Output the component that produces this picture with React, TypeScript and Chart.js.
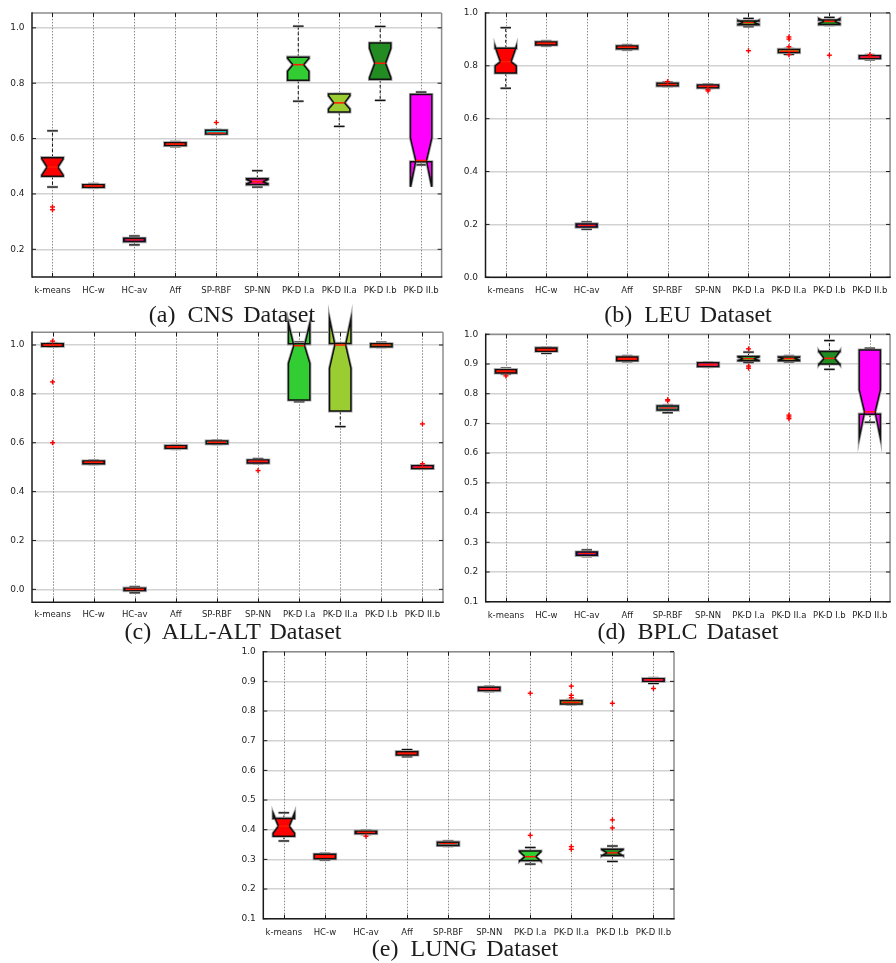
import React, { useEffect, useRef } from 'react';
import { Chart, registerables } from 'chart.js';

Chart.register(...registerables);

// ---------- data ----------
const categories = ['k-means', 'HC-w', 'HC-av', 'Aff', 'SP-RBF', 'SP-NN', 'PK-D I.a', 'PK-D II.a', 'PK-D I.b', 'PK-D II.b'];
const boxColors = ['#ff0000', '#ff0000', '#0000ff', '#ff0000', '#00c8c8', '#ff1493', '#32cd32', '#9acd32', '#228b22', '#ff00ff'];

// (a) CNS
const cnsLow = [0.425, 0.422, 0.216, 0.571, 0.615, 0.425, 0.735, 0.644, 0.738, 0.505];
const cnsQ1 = [0.464, 0.424, 0.228, 0.575, 0.617, 0.434, 0.811, 0.696, 0.814, 0.516];
const cnsMed = [0.497, 0.429, 0.234, 0.580, 0.620, 0.444, 0.867, 0.729, 0.872, 0.521];
const cnsQ3 = [0.531, 0.433, 0.240, 0.585, 0.630, 0.455, 0.894, 0.761, 0.945, 0.759];
const cnsHigh = [0.628, 0.437, 0.248, 0.589, 0.632, 0.484, 1.006, 0.761, 1.005, 0.768];
const cnsNotchLo = [0.468, null, null, null, null, 0.437, 0.843, 0.707, 0.820, 0.426];
const cnsNotchHi = [0.527, null, null, null, null, 0.452, 0.890, 0.755, 0.926, 0.602];
const cnsOutliers = [[0.353, 0.343], [], [], [], [0.658], [], [], [], [], []];
const cnsTicks = [0.2, 0.4, 0.6, 0.8, 1.0];

// (b) LEU
const leuLow = [0.715, 0.875, 0.182, 0.860, 0.722, 0.715, 0.948, 0.843, 0.953, 0.823];
const leuQ1 = [0.773, 0.879, 0.190, 0.864, 0.724, 0.717, 0.955, 0.850, 0.956, 0.828];
const leuMed = [0.815, 0.885, 0.196, 0.870, 0.729, 0.722, 0.963, 0.855, 0.968, 0.833];
const leuQ3 = [0.866, 0.890, 0.202, 0.875, 0.734, 0.727, 0.969, 0.862, 0.973, 0.838];
const leuHigh = [0.944, 0.894, 0.209, 0.879, 0.738, 0.730, 0.979, 0.865, 0.983, 0.842];
const leuNotchLo = [0.800, null, null, null, null, null, 0.957, null, 0.960, null];
const leuNotchHi = [0.872, null, null, null, null, null, 0.972, null, 0.978, null];
const leuOutliers = [[], [], [], [], [0.740], [0.710, 0.705], [0.857], [0.909, 0.901, 0.872, 0.842], [0.840], [0.842]];
const leuTicks = [0.0, 0.2, 0.4, 0.6, 0.8, 1.0];

// (c) ALL-ALT
const allLow = [0.993, 0.512, -0.014, 0.574, 0.594, 0.515, 0.768, 0.666, 0.991, 0.493];
const allQ1 = [0.995, 0.514, -0.005, 0.577, 0.596, 0.517, 0.775, 0.730, 0.993, 0.495];
const allMed = [1.000, 0.520, 0.000, 0.583, 0.602, 0.524, 0.997, 1.000, 1.000, 0.500];
const allQ3 = [1.005, 0.525, 0.005, 0.588, 0.607, 0.529, 1.005, 1.006, 1.005, 0.506];
const allHigh = [1.008, 0.528, 0.011, 0.591, 0.610, 0.535, 1.012, 1.008, 1.011, 0.508];
const allNotchLo = [null, null, null, null, null, null, 0.925, 0.905, null, null];
const allNotchHi = [null, null, null, null, null, null, 1.088, 1.105, null, null];
const allOutliers = [[1.016, 0.849, 0.600], [], [], [], [], [0.486], [], [], [], [0.677, 0.514]];
const allTicks = [0.0, 0.2, 0.4, 0.6, 0.8, 1.0];

// (d) BPLC
const bplcLow = [0.866, 0.936, 0.252, 0.908, 0.736, 0.890, 0.905, 0.907, 0.882, 0.704];
const bplcQ1 = [0.870, 0.943, 0.256, 0.911, 0.745, 0.892, 0.911, 0.911, 0.900, 0.731];
const bplcMed = [0.876, 0.948, 0.262, 0.918, 0.752, 0.898, 0.918, 0.918, 0.919, 0.739];
const bplcQ3 = [0.881, 0.954, 0.267, 0.924, 0.759, 0.904, 0.925, 0.924, 0.942, 0.947];
const bplcHigh = [0.886, 0.956, 0.274, 0.928, 0.762, 0.906, 0.940, 0.928, 0.979, 0.953];
const bplcNotchLo = [null, null, null, null, null, null, 0.912, 0.913, 0.898, 0.653];
const bplcNotchHi = [null, null, null, null, null, null, 0.924, 0.923, 0.943, 0.813];
const bplcOutliers = [[0.860], [], [], [], [0.780, 0.776], [], [0.951, 0.893, 0.886], [0.728, 0.722, 0.716], [], []];
const bplcTicks = [0.1, 0.2, 0.3, 0.4, 0.5, 0.6, 0.7, 0.8, 0.9, 1.0];

// (e) LUNG
const lungLow = [0.362, 0.298, 0.384, 0.646, 0.344, 0.866, 0.284, 0.822, 0.293, 0.893];
const lungQ1 = [0.378, 0.302, 0.387, 0.652, 0.347, 0.869, 0.296, 0.824, 0.313, 0.900];
const lungMed = [0.412, 0.310, 0.391, 0.657, 0.353, 0.874, 0.309, 0.829, 0.322, 0.905];
const lungQ3 = [0.438, 0.317, 0.395, 0.663, 0.358, 0.880, 0.328, 0.835, 0.334, 0.909];
const lungHigh = [0.457, 0.320, 0.398, 0.670, 0.362, 0.883, 0.340, 0.838, 0.345, 0.912];
const lungNotchLo = [0.388, null, null, null, null, null, 0.294, null, 0.312, null];
const lungNotchHi = [0.455, null, null, null, null, null, 0.326, null, 0.333, null];
const lungOutliers = [[], [], [0.378], [], [], [], [0.860, 0.381], [0.884, 0.853, 0.845, 0.343, 0.334], [0.826, 0.433, 0.406], [0.876]];
const lungTicks = [0.1, 0.2, 0.3, 0.4, 0.5, 0.6, 0.7, 0.8, 0.9, 1.0];

type Panel = {
  key: string;
  tag: string;
  name: string;
  low: number[]; q1: number[]; med: number[]; q3: number[]; high: number[];
  notchLo: (number | null)[]; notchHi: (number | null)[];
  outliers: number[][];
  ticks: number[];
  yMin: number; yMax: number;
};

const panels: Panel[] = [
  { key: 'a', tag: '(a)', name: 'CNS Dataset', low: cnsLow, q1: cnsQ1, med: cnsMed, q3: cnsQ3, high: cnsHigh, notchLo: cnsNotchLo, notchHi: cnsNotchHi, outliers: cnsOutliers, ticks: cnsTicks, yMin: 0.1, yMax: 1.054 },
  { key: 'b', tag: '(b)', name: 'LEU Dataset', low: leuLow, q1: leuQ1, med: leuMed, q3: leuQ3, high: leuHigh, notchLo: leuNotchLo, notchHi: leuNotchHi, outliers: leuOutliers, ticks: leuTicks, yMin: 0.0, yMax: 1.0 },
  { key: 'c', tag: '(c)', name: 'ALL-ALT Dataset', low: allLow, q1: allQ1, med: allMed, q3: allQ3, high: allHigh, notchLo: allNotchLo, notchHi: allNotchHi, outliers: allOutliers, ticks: allTicks, yMin: -0.053, yMax: 1.052 },
  { key: 'd', tag: '(d)', name: 'BPLC Dataset', low: bplcLow, q1: bplcQ1, med: bplcMed, q3: bplcQ3, high: bplcHigh, notchLo: bplcNotchLo, notchHi: bplcNotchHi, outliers: bplcOutliers, ticks: bplcTicks, yMin: 0.1, yMax: 1.0 },
  { key: 'e', tag: '(e)', name: 'LUNG Dataset', low: lungLow, q1: lungQ1, med: lungMed, q3: lungQ3, high: lungHigh, notchLo: lungNotchLo, notchHi: lungNotchHi, outliers: lungOutliers, ticks: lungTicks, yMin: 0.1, yMax: 1.0 },
];

// ---------- layout (positions / sizes only) ----------
type Layout = { left: number; top: number; w: number; h: number; padTop: number; padRight: number; yWidth: number; xHeight: number; xPad: number; capX: number; capTop: number };
const layouts: Record<string, Layout> = {
  a: { left: 0, top: 0, w: 448, h: 300, padTop: 7, padRight: 5, yWidth: 32, xHeight: 23, xPad: 9, capX: 232, capTop: 301.5 },
  b: { left: 448, top: 0, w: 448, h: 300, padTop: 10, padRight: 1, yWidth: 37.5, xHeight: 22.7, xPad: 8.5, capX: 688, capTop: 301.5 },
  c: { left: 0, top: 300, w: 448, h: 340, padTop: 32.3, padRight: 5, yWidth: 32, xHeight: 37.7, xPad: 7.5, capX: 233, capTop: 618.5 },
  d: { left: 448, top: 300, w: 448, h: 340, padTop: 34.3, padRight: 1, yWidth: 37.7, xHeight: 38.3, xPad: 8.5, capX: 688, capTop: 618.5 },
  e: { left: 220, top: 630, w: 470, h: 333, padTop: 21.7, padRight: 16, yWidth: 43.3, xHeight: 44.3, xPad: 8.5, capX: 465, capTop: 936 },
};

function line(ctx: CanvasRenderingContext2D, x1: number, y1: number, x2: number, y2: number) {
  ctx.beginPath();
  ctx.moveTo(x1, y1);
  ctx.lineTo(x2, y2);
  ctx.stroke();
}

function makeBoxPlugin(p: Panel) {
  return {
    id: 'boxplot-' + p.key,
    beforeDatasetsDraw(chart: any) {
      const ctx: CanvasRenderingContext2D = chart.ctx;
      const a = chart.chartArea;
      const xs = chart.scales.x;
      const ys = chart.scales.y;
      ctx.save();
      // vertical dotted category lines
      ctx.strokeStyle = '#8a8a8a';
      ctx.lineWidth = 1;
      ctx.setLineDash([1.5, 1.5]);
      for (let i = 0; i < categories.length; i++) {
        const x = Math.round(xs.getPixelForValue(i)) + 0.5;
        line(ctx, x, a.top, x, a.bottom);
      }
      ctx.setLineDash([]);
      // frame: top/right lighter, left/bottom dark
      ctx.lineWidth = 1.5;
      ctx.strokeStyle = '#8c8c8c';
      line(ctx, a.left, a.top, a.right, a.top);
      line(ctx, a.right, a.top, a.right, a.bottom);
      ctx.strokeStyle = '#1a1a1a';
      line(ctx, a.left, a.top - 0.75, a.left, a.bottom + 0.75);
      line(ctx, a.left, a.bottom, a.right + 0.75, a.bottom);
      // inward tick marks
      ctx.lineWidth = 1;
      ctx.strokeStyle = '#1a1a1a';
      ys.ticks.forEach((t: any) => {
        const y = ys.getPixelForValue(t.value);
        line(ctx, a.left, y, a.left + 4, y);
        line(ctx, a.right - 4, y, a.right, y);
      });
      for (let i = 0; i < categories.length; i++) {
        const x = Math.round(xs.getPixelForValue(i)) + 0.5;
        line(ctx, x, a.top, x, a.top + 4);
        line(ctx, x, a.bottom - 4, x, a.bottom);
      }
      ctx.restore();
    },
    afterDatasetsDraw(chart: any) {
      const ctx: CanvasRenderingContext2D = chart.ctx;
      const a = chart.chartArea;
      const xs = chart.scales.x;
      const ys = chart.scales.y;
      const Y = (v: number) => ys.getPixelForValue(v);
      const step = (a.right - a.left) / categories.length;
      const hw = step * 0.26;
      ctx.save();
      for (let i = 0; i < categories.length; i++) {
        const x = xs.getPixelForValue(i);
        // whiskers
        ctx.strokeStyle = '#111';
        ctx.lineWidth = 1;
        ctx.setLineDash([3, 2.5]);
        line(ctx, x, Y(p.q3[i]), x, Y(p.high[i]));
        line(ctx, x, Y(p.q1[i]), x, Y(p.low[i]));
        ctx.setLineDash([]);
        // caps with soft halo
        ctx.strokeStyle = '#b5b5b5';
        ctx.lineWidth = 2.6;
        line(ctx, x - hw / 2, Y(p.high[i]), x + hw / 2, Y(p.high[i]));
        line(ctx, x - hw / 2, Y(p.low[i]), x + hw / 2, Y(p.low[i]));
        ctx.strokeStyle = '#111';
        ctx.lineWidth = 1.2;
        line(ctx, x - hw / 2, Y(p.high[i]), x + hw / 2, Y(p.high[i]));
        line(ctx, x - hw / 2, Y(p.low[i]), x + hw / 2, Y(p.low[i]));
        // box
        const xl = x - hw, xr = x + hw, wl = x - hw / 2, wr = x + hw / 2;
        const nLo = p.notchLo[i], nHi = p.notchHi[i];
        const notched = nLo != null && nHi != null;
        ctx.beginPath();
        if (notched) {
          ctx.moveTo(xl, Y(p.q1[i]));
          ctx.lineTo(xr, Y(p.q1[i]));
          ctx.lineTo(xr, Y(nLo as number));
          ctx.lineTo(wr, Y(p.med[i]));
          ctx.lineTo(xr, Y(nHi as number));
          ctx.lineTo(xr, Y(p.q3[i]));
          ctx.lineTo(xl, Y(p.q3[i]));
          ctx.lineTo(xl, Y(nHi as number));
          ctx.lineTo(wl, Y(p.med[i]));
          ctx.lineTo(xl, Y(nLo as number));
          ctx.closePath();
        } else {
          ctx.rect(xl, Y(p.q3[i]), xr - xl, Y(p.q1[i]) - Y(p.q3[i]));
        }
        ctx.strokeStyle = '#a8a8a8';
        ctx.lineWidth = 3.2;
        ctx.stroke();
        ctx.fillStyle = boxColors[i];
        ctx.fill();
        ctx.strokeStyle = '#111';
        ctx.lineWidth = 1.5;
        ctx.stroke();
        // median
        ctx.strokeStyle = '#ff1a00';
        ctx.lineWidth = 1.5;
        if (notched) line(ctx, wl, Y(p.med[i]), wr, Y(p.med[i]));
        else line(ctx, xl + 1.5, Y(p.med[i]), xr - 1.5, Y(p.med[i]));
        // outliers
        ctx.strokeStyle = '#ff0000';
        ctx.lineWidth = 1.4;
        p.outliers[i].forEach((v) => {
          const y = Y(v);
          line(ctx, x - 2.5, y, x + 2.5, y);
          line(ctx, x, y - 2.5, x, y + 2.5);
        });
      }
      ctx.restore();
    },
  };
}

function BoxPanel({ panel }: { panel: Panel }) {
  const ref = useRef<HTMLCanvasElement>(null);
  const L = layouts[panel.key];
  useEffect(() => {
    const canvas = ref.current;
    if (!canvas) return;
    const chart = new Chart(canvas, {
      type: 'bar',
      data: {
        labels: categories,
        datasets: [
          {
            label: panel.name,
            data: panel.q1.map((v, i) => [v, panel.q3[i]]) as any,
            backgroundColor: 'rgba(0,0,0,0)',
            borderWidth: 0,
          },
        ],
      },
      options: {
        responsive: false,
        animation: false,
        events: [],
        layout: { padding: { left: 0, top: L.padTop, right: L.padRight, bottom: 0 } },
        plugins: { legend: { display: false }, tooltip: { enabled: false } },
        scales: {
          x: {
            type: 'category',
            offset: true,
            grid: { display: false, drawTicks: false },
            border: { display: false },
            ticks: {
              autoSkip: false,
              maxRotation: 0,
              minRotation: 0,
              padding: L.xPad,
              color: '#1e1e1e',
              font: { family: 'DejaVu Sans', size: 8.5 },
            },
            afterFit: (s: any) => {
              s.height = L.xHeight;
            },
          },
          y: {
            type: 'linear',
            min: panel.yMin,
            max: panel.yMax,
            grid: { color: '#d2d2d2', lineWidth: 1.5, drawTicks: false },
            border: { display: false },
            ticks: {
              padding: 7.5,
              color: '#1e1e1e',
              font: { family: 'DejaVu Sans', size: 9 },
              callback: (v: any) => Number(v).toFixed(1),
            },
            afterBuildTicks: (s: any) => {
              s.ticks = panel.ticks.map((v) => ({ value: v }));
            },
            afterFit: (s: any) => {
              s.width = L.yWidth;
            },
          },
        },
      } as any,
      plugins: [makeBoxPlugin(panel)],
    });
    return () => chart.destroy();
  }, []);
  return (
    <canvas
      ref={ref}
      width={L.w}
      height={L.h}
      style={{ position: 'absolute', left: L.left, top: L.top, width: L.w, height: L.h }}
    />
  );
}

function Caption({ panel }: { panel: Panel }) {
  const L = layouts[panel.key];
  return (
    <div
      style={{
        position: 'absolute',
        left: L.capX - 150,
        top: L.capTop,
        width: 300,
        textAlign: 'center',
        fontFamily: '"Liberation Serif", serif',
        fontSize: 24,
        lineHeight: '24px',
        color: '#1c1c1c',
        wordSpacing: 3,
        whiteSpace: 'nowrap',
      }}
    >
      <span style={{ marginRight: 3 }}>{panel.tag}</span> {panel.name}
    </div>
  );
}

export default function App() {
  return (
    <div style={{ position: 'absolute', left: 0, top: 0, width: 896, height: 963, background: '#fff', overflow: 'hidden' }}>
      {panels.map((p) => (
        <BoxPanel key={p.key} panel={p} />
      ))}
      {panels.map((p) => (
        <Caption key={'cap-' + p.key} panel={p} />
      ))}
    </div>
  );
}
